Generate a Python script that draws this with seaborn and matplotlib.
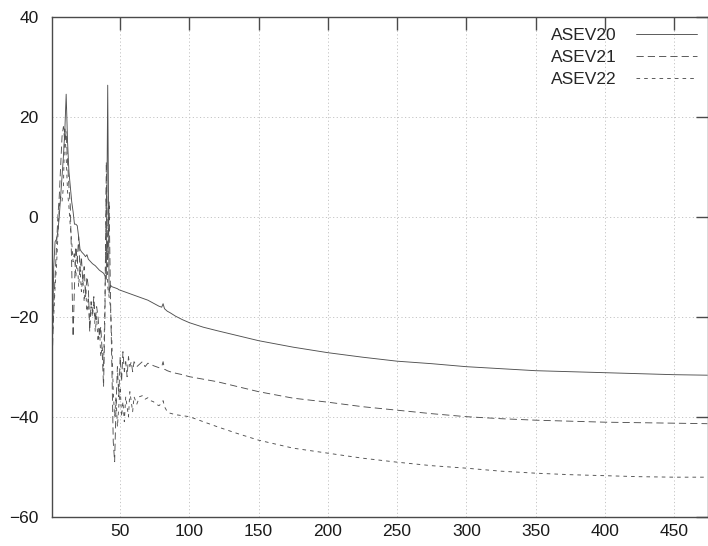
import pandas as pd
import numpy as np
import matplotlib
matplotlib.use("Agg")
import matplotlib.pyplot as plt
import seaborn as sns

# sample positions (shared by the three series)
x = list(range(1, 61)) + [62, 64, 66, 68, 70, 72, 74, 76, 78, 80, 81, 82, 84, 86,
                          90, 95, 100, 110, 120, 135, 150, 175, 200, 225, 250,
                          275, 300, 325, 350, 375, 400, 425, 450, 474]

asev20 = [-26, -10, -5, -4.5, -3, 0, 4, 8, 12, 17,
          24.5, 15, 9, 6, 3, 1, -1.5, -1.5, -1.8, -4,
          -6.5, -7, -7.3, -7.6, -8, -7.6, -8.5, -8.8, -9.1, -9.4,
          -9.6, -9.8, -10.1, -10.4, -10.7, -10.9, -11.1, -11.3, -11.8, -12.5,
          26.3, -15.3, -13.7, -14.0, -14.1, -14.2, -14.3, -14.4, -14.6, -14.7,
          -14.8, -14.9, -15.0, -15.1, -15.2, -15.3, -15.4, -15.5, -15.6, -15.7,
          -15.9, -16.1, -16.3, -16.5, -16.7, -17.0, -17.3, -17.6, -17.9, -18.1,
          -17.4, -18.4, -18.9, -19.2,
          -19.9, -20.6, -21.2, -22.1, -22.8, -23.8, -24.8, -26.1, -27.2, -28.1,
          -28.9, -29.4, -30.0, -30.4, -30.8, -31.0, -31.2, -31.4, -31.6, -31.7]

asev21 = [-28, -18, -12, -6, 0, 4, 10, 16, 18, 15,
          17, 11, 6, 2, -10, -24, -14, -6, -9, -4,
          -11, -8, -13, -10, -16, -12, -14, -23, -17, -19,
          -16, -21, -18, -20, -24, -22, -27, -34, -20, 11,
          -10, 3, -16, -30, -45, -49, -38, -30, -36, -28,
          -33, -27, -31, -29, -32, -28, -30, -29, -31, -29,
          -30, -29.5, -29, -30, -29.3, -29.5, -29.8, -30, -30.2, -30,
          -29, -30.5, -30.8, -31,
          -31.3, -31.6, -32.0, -32.5, -33.0, -34.0, -35.0, -36.3, -37.1, -38.0,
          -38.7, -39.4, -40.0, -40.4, -40.7, -40.9, -41.1, -41.2, -41.3, -41.4]

asev22 = [-24, -20, -14, -10, -4, 2, 4, 3, 6, 18,
          12, 5, 2, -2, -5, -9, -7, -12, -8, -14,
          -10, -15, -12, -17, -14, -19, -16, -22, -18, -20,
          -17, -23, -20, -25, -22, -28, -26, -30, -17, 6,
          -14, -16, -18, -25, -35, -40, -36, -42, -38, -34,
          -40, -37, -41, -36, -38, -40, -35, -37, -39, -36,
          -37.5, -36, -35.8, -36.5, -36.2, -36.8, -37, -37.5, -37.8, -37.3,
          -36.8, -38, -39, -39.3,
          -39.6, -39.8, -40.0, -41.0, -42.0, -43.4, -44.7, -46.3, -47.3, -48.3,
          -49.1, -49.8, -50.3, -50.9, -51.3, -51.6, -51.8, -52.0, -52.1, -52.1]

series = {"ASEV20": asev20, "ASEV21": asev21, "ASEV22": asev22}
styles = {"ASEV20": "-", "ASEV21": (0, (8, 4.5)), "ASEV22": (0, (4, 4.5))}

df = pd.concat(
    [pd.DataFrame({"x": x, "value": v, "series": name}) for name, v in series.items()],
    ignore_index=True,
)

sns.set_theme(style="white")
plt.rcParams["font.family"] = ["Liberation Sans", "DejaVu Sans"]

fig = plt.figure(figsize=(7.08, 5.46), dpi=100)
ax = fig.add_axes([0.0739, 0.0537, 0.9261, 0.9157])

for name in series:
    sns.lineplot(data=df[df["series"] == name], x="x", y="value", ax=ax,
                 color="#505050", linewidth=0.65, linestyle=styles[name],
                 estimator=None, label=name)

ax.set_xlim(1, 474.5)
ax.set_ylim(-60, 40)
ax.set_xticks(range(50, 451, 50))
ax.set_yticks(range(-60, 41, 20))
ax.set_xlabel("")
ax.set_ylabel("")

ax.grid(True, color="#c4c4c4", linestyle=(0, (1.2, 2.5)), linewidth=0.7)
for s in ax.spines.values():
    s.set_color("#4a4a4a")
    s.set_linewidth(1.0)
ax.tick_params(direction="in", top=True, right=True, length=9, width=1,
               color="#4a4a4a", labelsize=12.5, labelcolor="#1a1a1a")
ax.tick_params(axis="y", pad=10)
ax.tick_params(axis="x", pad=5)

ax.legend(loc="upper right", frameon=False, markerfirst=False, fontsize=12.5,
          handlelength=3.5, handletextpad=1.1, labelspacing=0.4,
          borderaxespad=0.25)

fig.savefig("out.png", dpi=100)
